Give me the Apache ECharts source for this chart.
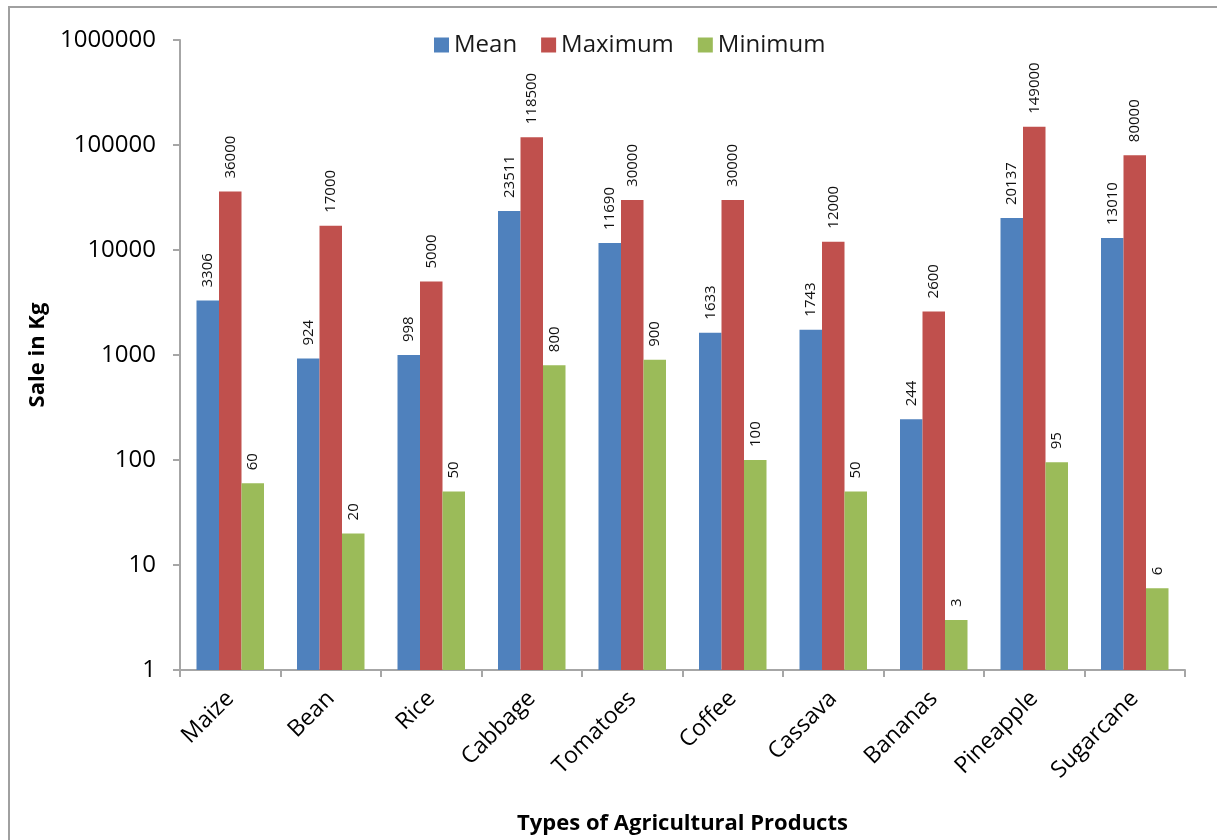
<!DOCTYPE html>
<html>
<head>
<meta charset="utf-8">
<script src="https://cdn.jsdelivr.net/npm/echarts@6/dist/echarts.min.js"></script>
<style>
  html, body { margin: 0; padding: 0; background: #fff; }
  #chart { width: 1217px; height: 840px; }
</style>
</head>
<body>
<div id="chart"></div>
<script>
// Products and sales figures (kg)
const categories = ['Maize', 'Bean', 'Rice', 'Cabbage', 'Tomatoes', 'Coffee', 'Cassava', 'Bananas', 'Pineapple', 'Sugarcane'];
const meanValues = [3306, 924, 998, 23511, 11690, 1633, 1743, 244, 20137, 13010];
const maxValues = [36000, 17000, 5000, 118500, 30000, 30000, 12000, 2600, 149000, 80000];
const minValues = [60, 20, 50, 800, 900, 100, 50, 3, 95, 6];
const seriesNames = ['Mean', 'Maximum', 'Minimum'];

const FONT = '"Open Sans", "DejaVu Sans", sans-serif';
const AXIS_COLOR = '#a6a6a6';

const chart = echarts.init(document.getElementById('chart'), null, { renderer: 'canvas' });

function barSeries(name, data, color) {
  return {
    name: name,
    type: 'bar',
    data: data,
    barWidth: 22.5,
    barGap: '0%',
    itemStyle: { color: color },
    label: {
      show: true,
      position: 'top',
      rotate: 90,
      align: 'left',
      verticalAlign: 'middle',
      distance: 13,
      fontFamily: FONT,
      fontSize: 15,
      color: '#111'
    }
  };
}

chart.setOption({
  animation: false,
  backgroundColor: '#ffffff',
  graphic: [{
    type: 'rect',
    shape: { x: 9, y: 7, width: 1400, height: 1000 },
    style: { fill: 'none', stroke: '#a0a0a0', lineWidth: 2 },
    silent: true
  }],
  legend: {
    data: seriesNames,
    left: 429,
    top: 28,
    itemWidth: 15,
    itemHeight: 15,
    itemGap: 24,
    icon: 'rect',
    textStyle: { fontFamily: FONT, fontSize: 24, color: '#1a1a1a', padding: [0, 0, 0, 0] }
  },
  grid: { left: 180, right: 32, top: 40, bottom: 166, containLabel: false },
  xAxis: {
    type: 'category',
    data: categories,
    name: 'Types of Agricultural Products',
    nameLocation: 'middle',
    nameGap: 143,
    nameTextStyle: { fontFamily: FONT, fontSize: 22, fontWeight: 'bold', color: '#000' },
    axisLine: { lineStyle: { color: AXIS_COLOR, width: 2 } },
    axisTick: { show: true, length: 7, lineStyle: { color: AXIS_COLOR, width: 2 } },
    axisLabel: {
      rotate: 45,
      margin: 25,
      fontFamily: FONT,
      fontSize: 23,
      color: '#000'
    }
  },
  yAxis: {
    type: 'log',
    logBase: 10,
    min: 1,
    max: 1000000,
    name: 'Sale in Kg',
    nameLocation: 'middle',
    nameGap: 126,
    nameRotate: 90,
    nameTextStyle: { fontFamily: FONT, fontSize: 22, fontWeight: 'bold', color: '#000' },
    axisLine: { show: true, lineStyle: { color: AXIS_COLOR, width: 2 } },
    axisTick: { show: true, length: 7, lineStyle: { color: AXIS_COLOR, width: 2 } },
    splitLine: { show: false },
    axisLabel: {
      margin: 24,
      fontFamily: FONT,
      fontSize: 24,
      color: '#000',
      formatter: function (v) { return String(Math.round(v)); }
    }
  },
  series: [
    barSeries(seriesNames[0], meanValues, '#4F81BD'),
    barSeries(seriesNames[1], maxValues, '#C0504D'),
    barSeries(seriesNames[2], minValues, '#9BBB59')
  ]
});
</script>
</body>
</html>
